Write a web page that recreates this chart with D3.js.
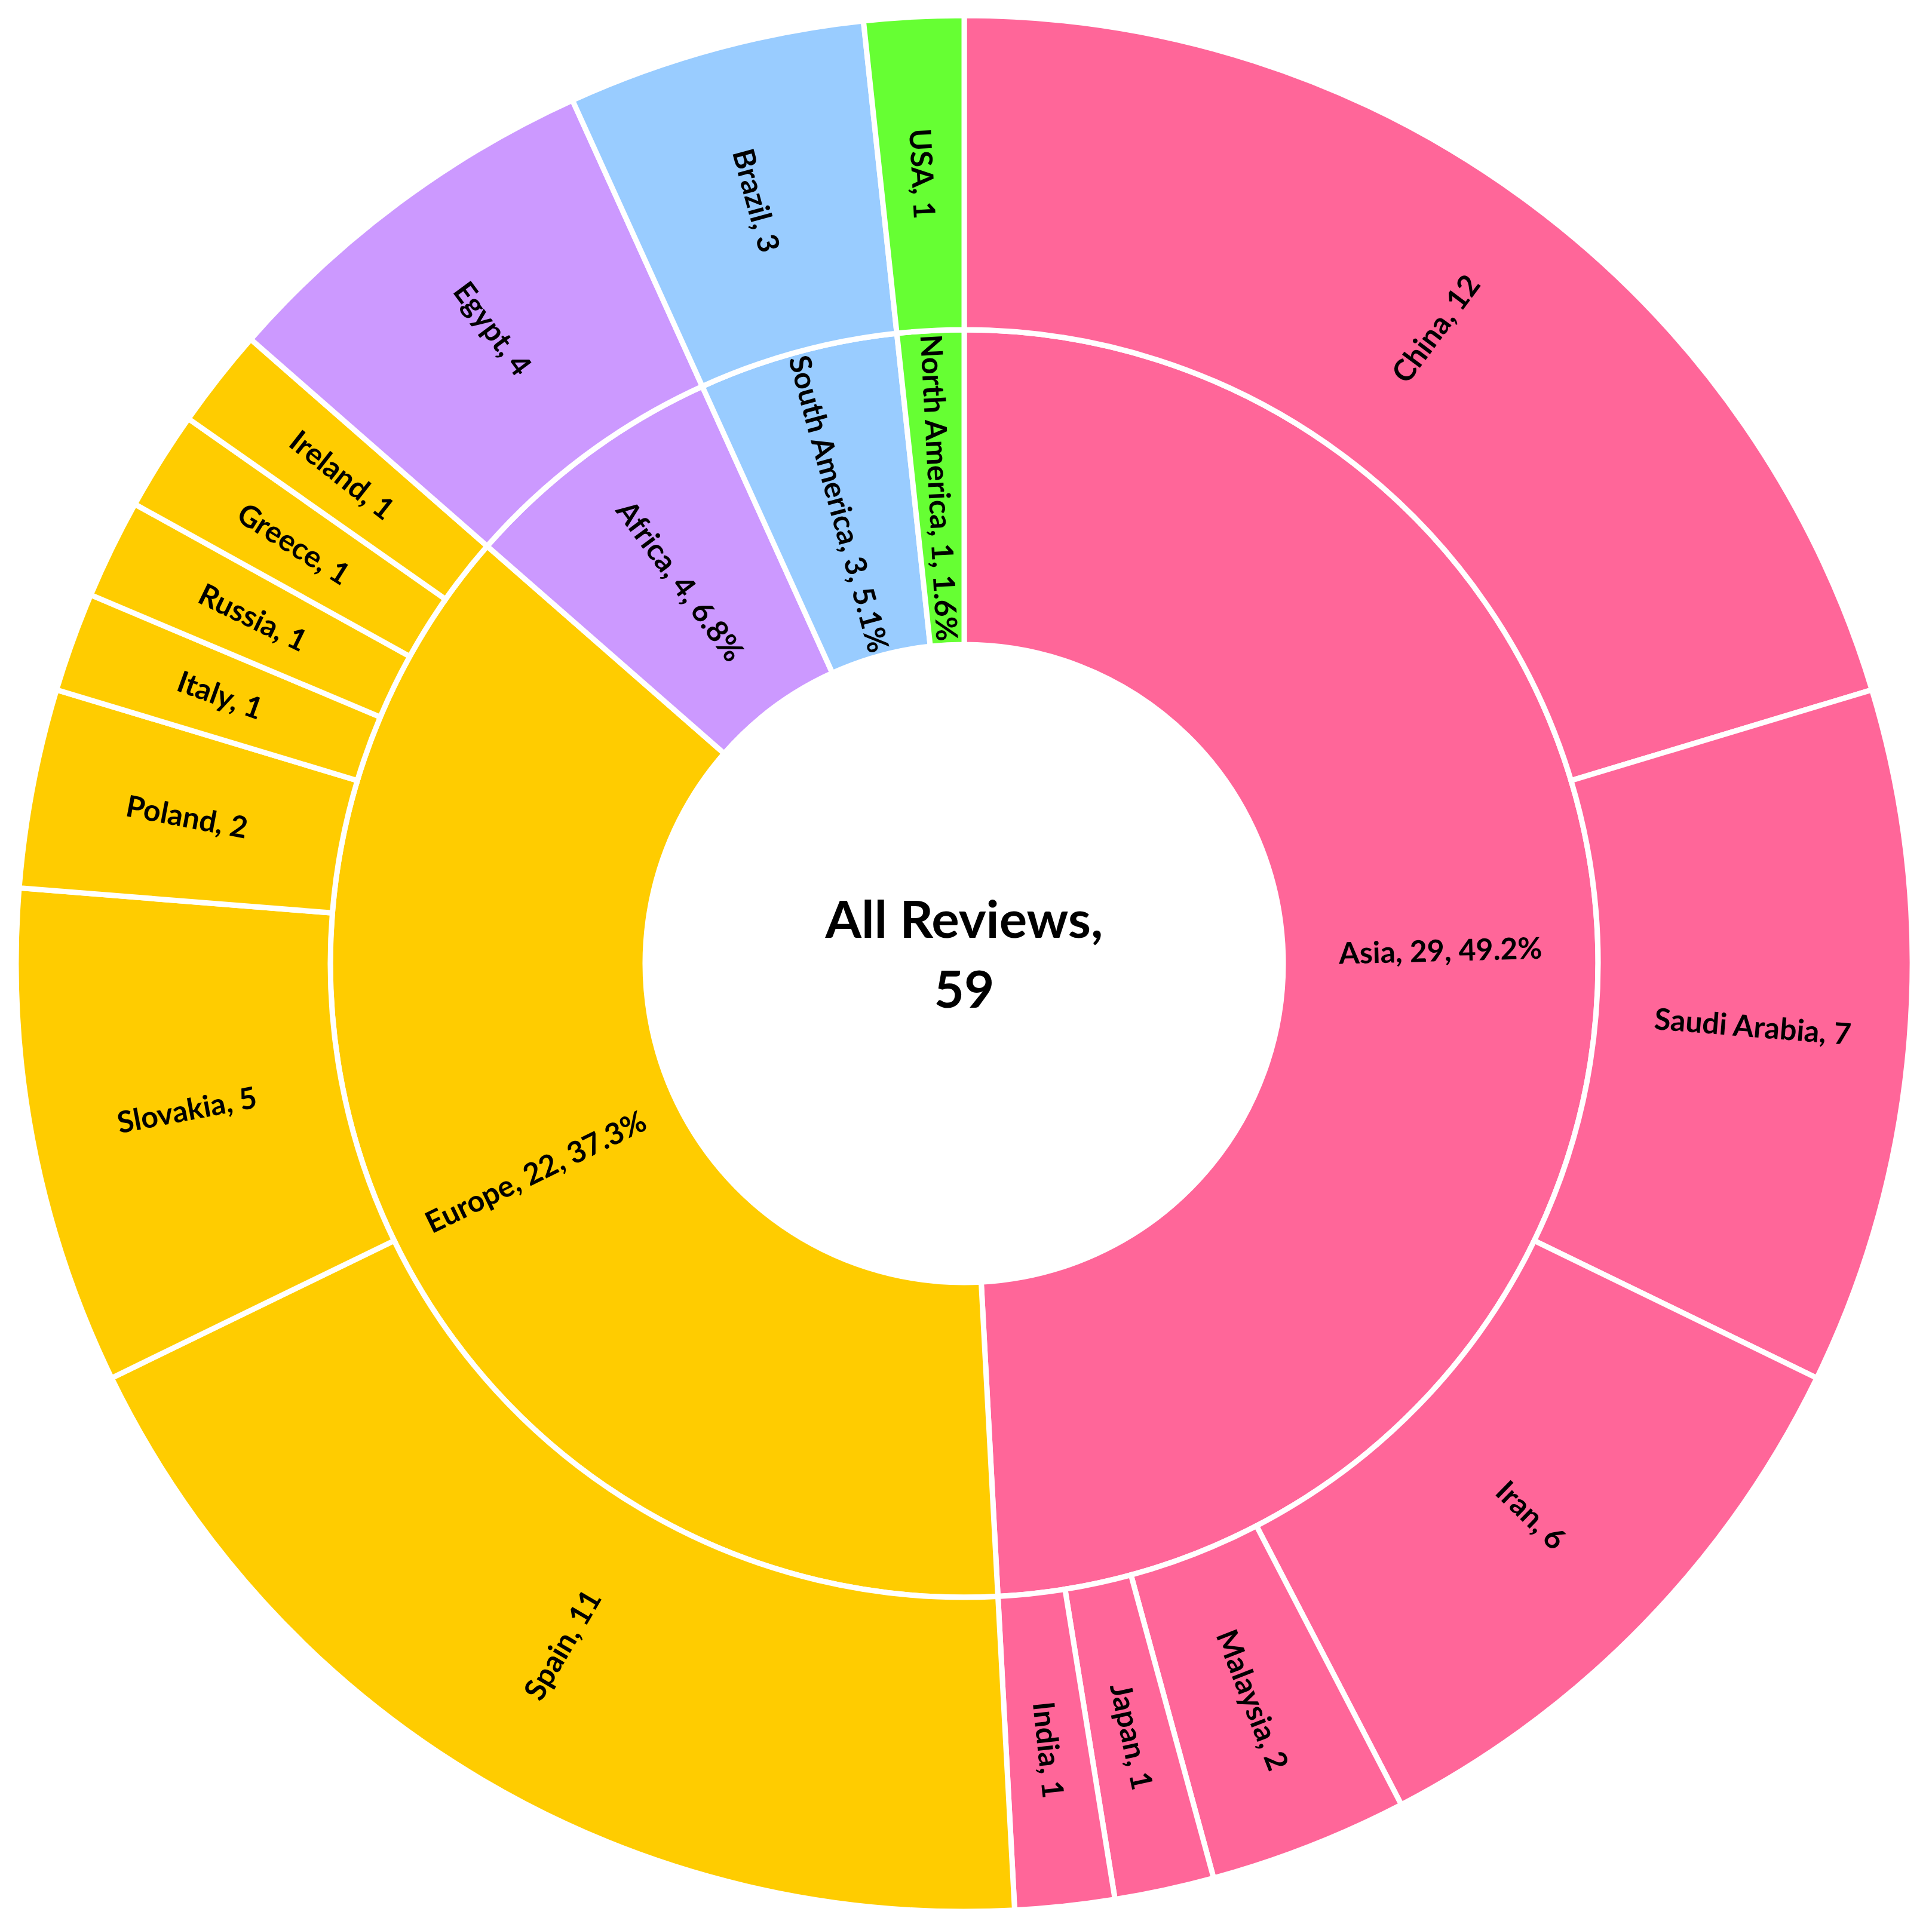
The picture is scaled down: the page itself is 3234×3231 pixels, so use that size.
<!DOCTYPE html>
<html>
<head>
<meta charset="utf-8">
<script src="https://cdn.jsdelivr.net/npm/d3@7"></script>
<style>
  html, body { margin: 0; padding: 0; background: #ffffff; }
  svg { display: block; }
</style>
</head>
<body>
<svg id="chart" width="3234" height="3231"></svg>
<script>
// ---------- data ----------
const totalLabel = "All Reviews";
const continents = ["Asia", "Europe", "Africa", "South America", "North America"];
const continentPercentLabels = ["49.2", "37.3", "6.8", "5.1", "1.6"];
const countries = ["China", "Saudi Arabia", "Iran", "Malaysia", "Japan", "India",
                   "Spain", "Slovakia", "Poland", "Italy", "Russia", "Greece", "Ireland",
                   "Egypt", "Brazil", "USA"];
const countryContinent = ["Asia", "Asia", "Asia", "Asia", "Asia", "Asia",
                          "Europe", "Europe", "Europe", "Europe", "Europe", "Europe", "Europe",
                          "Africa", "South America", "North America"];
const countryValues = [12, 7, 6, 2, 1, 1, 11, 5, 2, 1, 1, 1, 1, 4, 3, 1];

// ---------- styling ----------
const W = 3234, H = 3231;
const cx = 1614, cy = 1613;
const color = d3.scaleOrdinal()
  .domain(continents)
  .range(["#FF6699", "#FFCC00", "#CC99FF", "#99CCFF", "#66FF33"]);
const radius = d3.scaleLinear().domain([1, 2, 3]).range([534, 1061, 1587]);
const FONT = "Lato, 'Open Sans', 'DejaVu Sans', sans-serif";

// ---------- hierarchy ----------
const tree = {
  name: totalLabel,
  children: continents.map((c, i) => ({
    name: c,
    pct: continentPercentLabels[i],
    children: countries
      .map((n, j) => ({ name: n, value: countryValues[j], cont: countryContinent[j] }))
      .filter(d => d.cont === c)
  }))
};

const root = d3.hierarchy(tree).sum(d => d.children ? 0 : d.value);
d3.partition().size([2 * Math.PI, 3])(root);

const svg = d3.select("#chart");
const g = svg.append("g").attr("transform", `translate(${cx},${cy})`);

const arc = d3.arc()
  .startAngle(d => d.x0)
  .endAngle(d => d.x1)
  .innerRadius(d => radius(d.y0))
  .outerRadius(d => radius(d.y1));

const nodes = root.descendants().filter(d => d.depth > 0);

g.selectAll("path.seg")
  .data(nodes)
  .join("path")
  .attr("class", "seg")
  .attr("d", arc)
  .attr("fill", d => color(d.depth === 1 ? d.data.name : d.parent.data.name))
  .attr("stroke", "#ffffff")
  .attr("stroke-width", 9)
  .attr("stroke-linejoin", "miter");

// ---------- labels ----------
function labelText(d) {
  if (d.depth === 1) return `${d.data.name}, ${d.value}, ${d.data.pct}%`;
  return `${d.data.name}, ${d.value}`;
}

g.selectAll("text.lbl")
  .data(nodes)
  .join("text")
  .attr("class", "lbl")
  .attr("transform", d => {
    const a = (d.x0 + d.x1) / 2;
    const r = (radius(d.y0) + radius(d.y1)) / 2;
    const deg = a * 180 / Math.PI;
    const rot = deg < 180 ? deg - 90 : deg - 270;
    return `translate(${r * Math.sin(a)},${-r * Math.cos(a)}) rotate(${rot})`;
  })
  .attr("text-anchor", "middle")
  .attr("dy", "0.35em")
  .attr("font-family", FONT)
  .attr("font-weight", 700)
  .attr("font-size", 50)
  .attr("fill", "#000000")
  .text(labelText);

// ---------- centre ----------
const centre = g.append("text")
  .attr("text-anchor", "middle")
  .attr("font-family", FONT)
  .attr("font-weight", 700)
  .attr("font-size", 87)
  .attr("fill", "#000000");
centre.append("tspan").attr("x", 0).attr("y", -43).text(`${root.data.name},`);
centre.append("tspan").attr("x", 0).attr("y", 74).text(`${root.value}`);
</script>
</body>
</html>
